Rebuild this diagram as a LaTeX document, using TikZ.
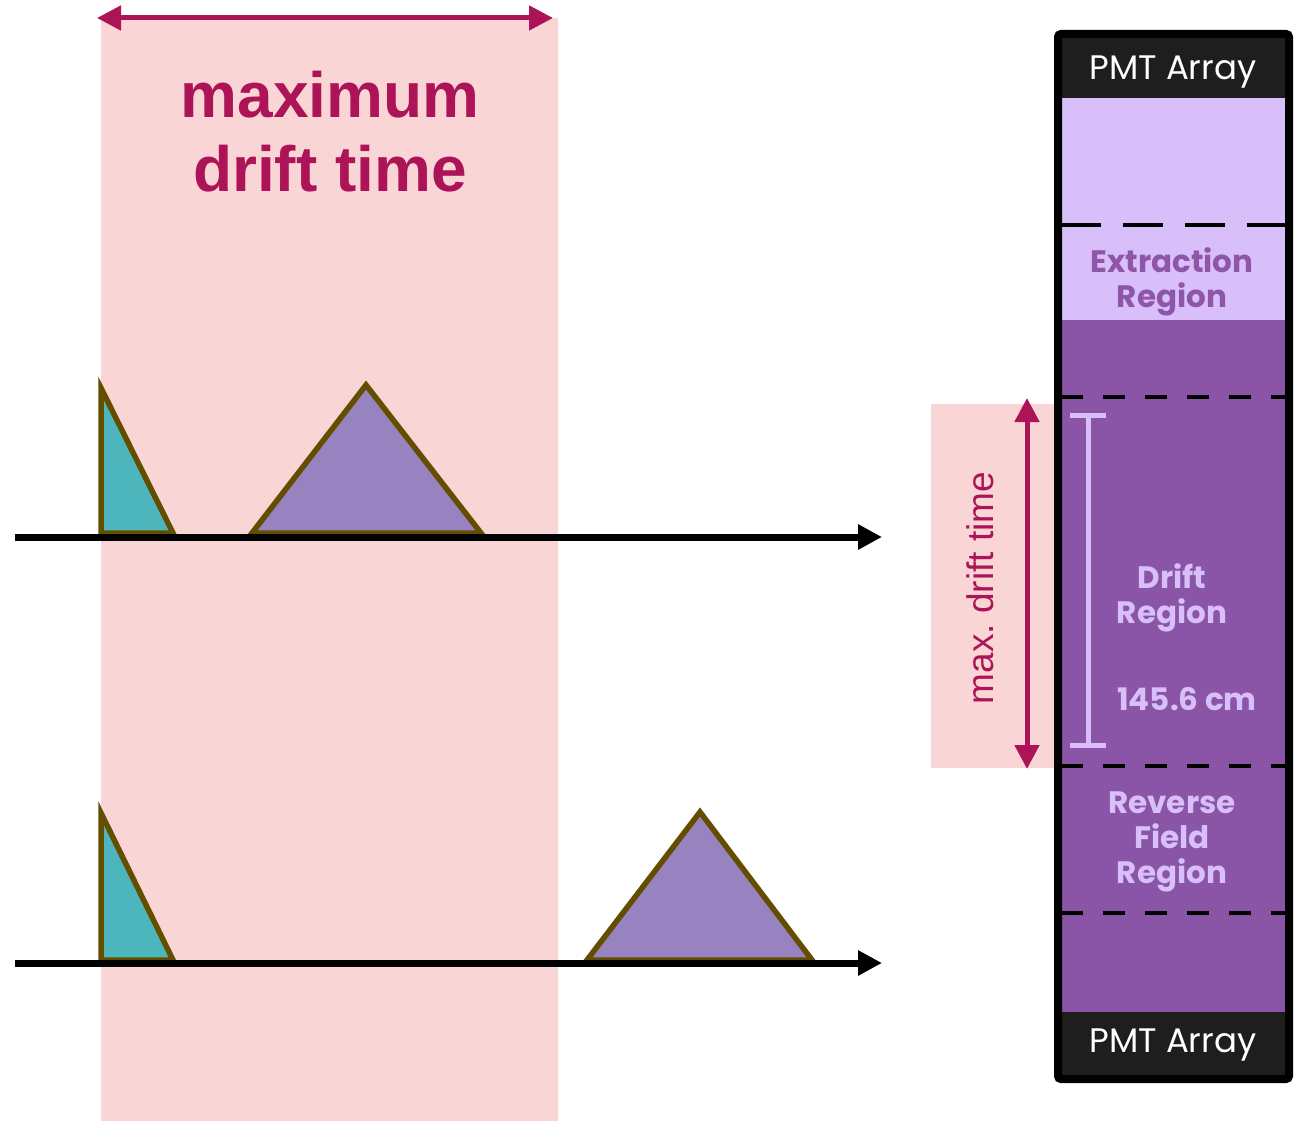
\documentclass[tikz,border=0pt]{standalone}
\usepackage{fontspec}
\setmainfont{Liberation Sans}
\newfontfamily\colfont{Poppins}
\usetikzlibrary{arrows.meta}
\frenchspacing
\definecolor{pinkbg}{HTML}{F9D6D5}
\definecolor{mag}{HTML}{AD1457}
\definecolor{tealc}{HTML}{4DB6BD}
\definecolor{purtri}{HTML}{9683C0}
\definecolor{brownc}{HTML}{654D00}
\definecolor{lav}{HTML}{D8BFFA}
\definecolor{dpur}{HTML}{8B55A7}
\definecolor{band}{HTML}{1E1E1E}
\definecolor{extxt}{HTML}{8E55A8}
\tikzset{
  axis/.style={line width=7pt, -{Triangle[length=24pt,width=24pt]}},
  peak/.style={draw=brownc, line width=5.5pt, line join=miter},
  magarrow/.style={draw=mag, line width=5pt, {Triangle[length=24pt,width=24pt]}-{Triangle[length=24pt,width=24pt]}},
  coltext/.style={font=\colfont\bfseries\fontsize{31}{35}\selectfont, align=center, inner sep=0pt},
  pmttext/.style={font=\colfont\fontsize{34}{38}\selectfont, text=white, inner sep=0pt},
  divider/.style={line width=4pt, dash pattern=on 22pt off 20pt}
}
\begin{document}
\begin{tikzpicture}[x=1pt,y=-1pt]
\useasboundingbox (0,0) rectangle (1299,1121);
% pink bands
\fill[pinkbg] (101,18) rectangle (558,1121);
\fill[pinkbg] (931,404) rectangle (1057,768);
% top arrow and title
\coordinate (tl) at (97,18);
\coordinate (tr) at (553,18);
\draw[magarrow] (tl) -- (tr);
\node[font=\bfseries\fontsize{64}{74}\selectfont, text=mag, align=center, inner sep=0pt] (title) at (330,132) {maximum\\drift time};
% upper signal
\node[coordinate] (a1s) at (15,537) {};
\node[coordinate] (a1e) at (882,537) {};
\draw[peak, fill=tealc] (101,388) -- (173,533) -- (101,533) -- cycle;
\draw[peak, fill=purtri] (366,385) -- (481,533) -- (252,533) -- cycle;
\draw[axis] (a1s) -- (a1e);
% lower signal
\node[coordinate] (a2s) at (15,963) {};
\node[coordinate] (a2e) at (882,963) {};
\draw[peak, fill=tealc] (101,813) -- (173,960) -- (101,960) -- cycle;
\draw[peak, fill=purtri] (700,812) -- (812,960) -- (587,960) -- cycle;
\draw[axis] (a2s) -- (a2e);
% column
\fill[band] (1061,37) rectangle (1286,98);
\fill[lav] (1061,98) rectangle (1286,320);
\fill[dpur] (1061,320) rectangle (1286,1012);
\fill[band] (1061,1012) rectangle (1286,1076);
\draw[line width=4pt, dash pattern=on 40pt off 22pt] (1061,225) -- (1286,225);
\draw[divider] (1061,397) -- (1286,397);
\draw[divider] (1061,766) -- (1286,766);
\draw[divider] (1061,913) -- (1286,913);
\draw[line width=8pt, rounded corners=3pt] (1058,34) rectangle (1289,1079);
\node[pmttext] (pmt1) at (1173,72) {PMT Array};
\node[pmttext] (pmt2) at (1173,1045) {PMT Array};
\node[coltext, text=extxt] (extr) at (1172,282) {Extraction\\Region};
\node[coltext, text=lav] (drift) at (1172,598) {Drift\\Region};
\node[coltext, text=lav] (len) at (1187,699) {145.6 cm};
\node[coltext, text=lav] (rev) at (1172,842) {Reverse\\Field\\Region};
% length bar
\draw[lav, line width=5pt] (1088,415) -- (1088,745);
\draw[lav, line width=5pt] (1070,415) -- (1106,415);
\draw[lav, line width=5pt] (1070,745) -- (1106,745);
% max drift vertical arrow
\coordinate (vt) at (1027,398);
\coordinate (vb) at (1027,769);
\draw[magarrow] (vt) -- (vb);
\node[rotate=90, text=mag, font=\fontsize{37}{44}\selectfont, inner sep=0pt] (mdt) at (980,588) {max. drift time};
\end{tikzpicture}
\end{document}
